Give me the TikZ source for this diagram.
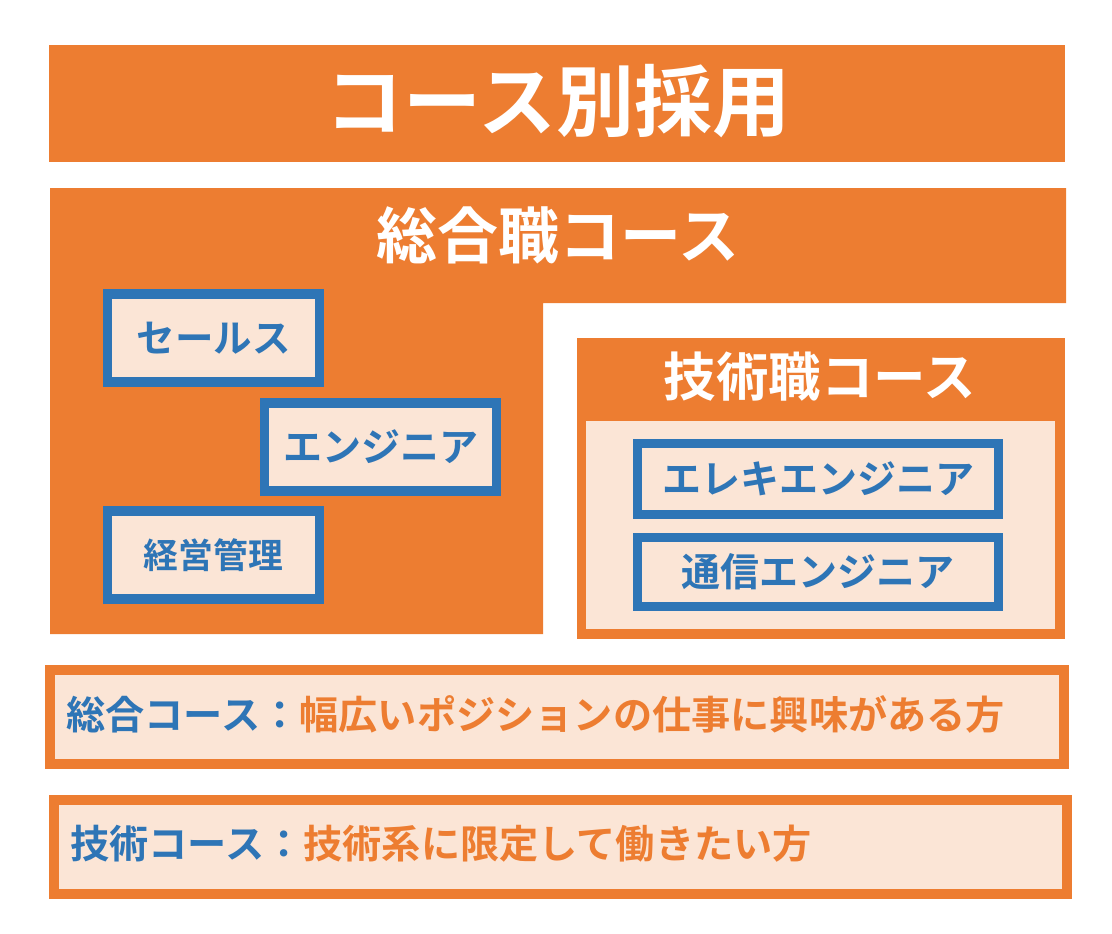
\documentclass[tikz,border=0pt]{standalone}
\usepackage{fontspec}
\setmainfont{Noto Sans CJK JP}[BoldFont={Noto Sans CJK JP Bold}]
\usetikzlibrary{positioning}
\definecolor{acc}{HTML}{ED7D31}
\definecolor{pale}{HTML}{FBE5D6}
\definecolor{lnk}{HTML}{2E75B6}
\tikzset{font=\bfseries}
\tikzset{x=1pt,y=-1pt}
\tikzset{band/.style={fill=acc,draw=none,anchor=north west,inner sep=0pt}}
\tikzset{jobbox/.style={fill=pale,draw=lnk,line width=9.5pt,text=lnk,anchor=center,inner sep=0pt,outer sep=0pt}}
\tikzset{notebox/.style={fill=pale,draw=acc,line width=9.5pt,anchor=north west,inner sep=0pt,outer sep=0pt}}
\tikzset{notetext/.style={anchor=west,inner sep=0pt,font=\bfseries\fontsize{39.2}{39.2}\selectfont}}
\begin{document}
\begin{tikzpicture}
  \useasboundingbox (0,0) rectangle (1112,934);
  \node[band,minimum width=1016pt,minimum height=117pt] (head) at (49,45) {};
  \node[white,font=\bfseries\fontsize{78}{78}\selectfont] (headtxt) at (558,101) {コース別採用};

  \fill[acc] (50,188)--(1066,188)--(1066,303)--(543,303)--(543,634)--(50,634)--cycle;
  \node[white,font=\bfseries\fontsize{61}{61}\selectfont] (sogo) at (558,235) {総合職コース};

  \node[jobbox,minimum width=212pt,minimum height=88pt,font=\bfseries\fontsize{38.5}{38.5}\selectfont] (sales) at (213.5,338) {セールス};
  \node[jobbox,minimum width=232pt,minimum height=88pt,font=\bfseries\fontsize{39}{39}\selectfont] (eng) at (380.5,447) {エンジニア};
  \node[jobbox,minimum width=212pt,minimum height=88pt,font=\bfseries\fontsize{34.8}{34.8}\selectfont] (mgmt) at (213.5,555) {経営管理};

  \node[band,minimum width=488pt,minimum height=301pt] (tech) at (577,338) {};
  \node[white,font=\bfseries\fontsize{52.5}{52.5}\selectfont] (techtxt) at (820,377) {技術職コース};
  \node[fill=pale,draw=none,minimum width=469pt,minimum height=208pt,anchor=north west,inner sep=0pt] (techin) at (586,421) {};
  \node[jobbox,minimum width=361pt,minimum height=71pt,font=\bfseries\fontsize{39}{39}\selectfont] (elec) at (818,479) {エレキエンジニア};
  \node[jobbox,minimum width=361pt,minimum height=69pt,font=\bfseries\fontsize{39}{39}\selectfont] (comm) at (818,572) {通信エンジニア};

  \node[notebox,minimum width=1014pt,minimum height=94pt] (note1) at (50,670) {};
  \node[notetext] (note1txt) at (66,714.5) {\textcolor{lnk}{総合コース：}\textcolor{acc}{幅広いポジションの仕事に興味がある方}};
  \node[notebox,minimum width=1013pt,minimum height=94pt] (note2) at (54,800) {};
  \node[notetext] (note2txt) at (70,844) {\textcolor{lnk}{技術コース：}\textcolor{acc}{技術系に限定して働きたい方}};
\end{tikzpicture}
\end{document}
